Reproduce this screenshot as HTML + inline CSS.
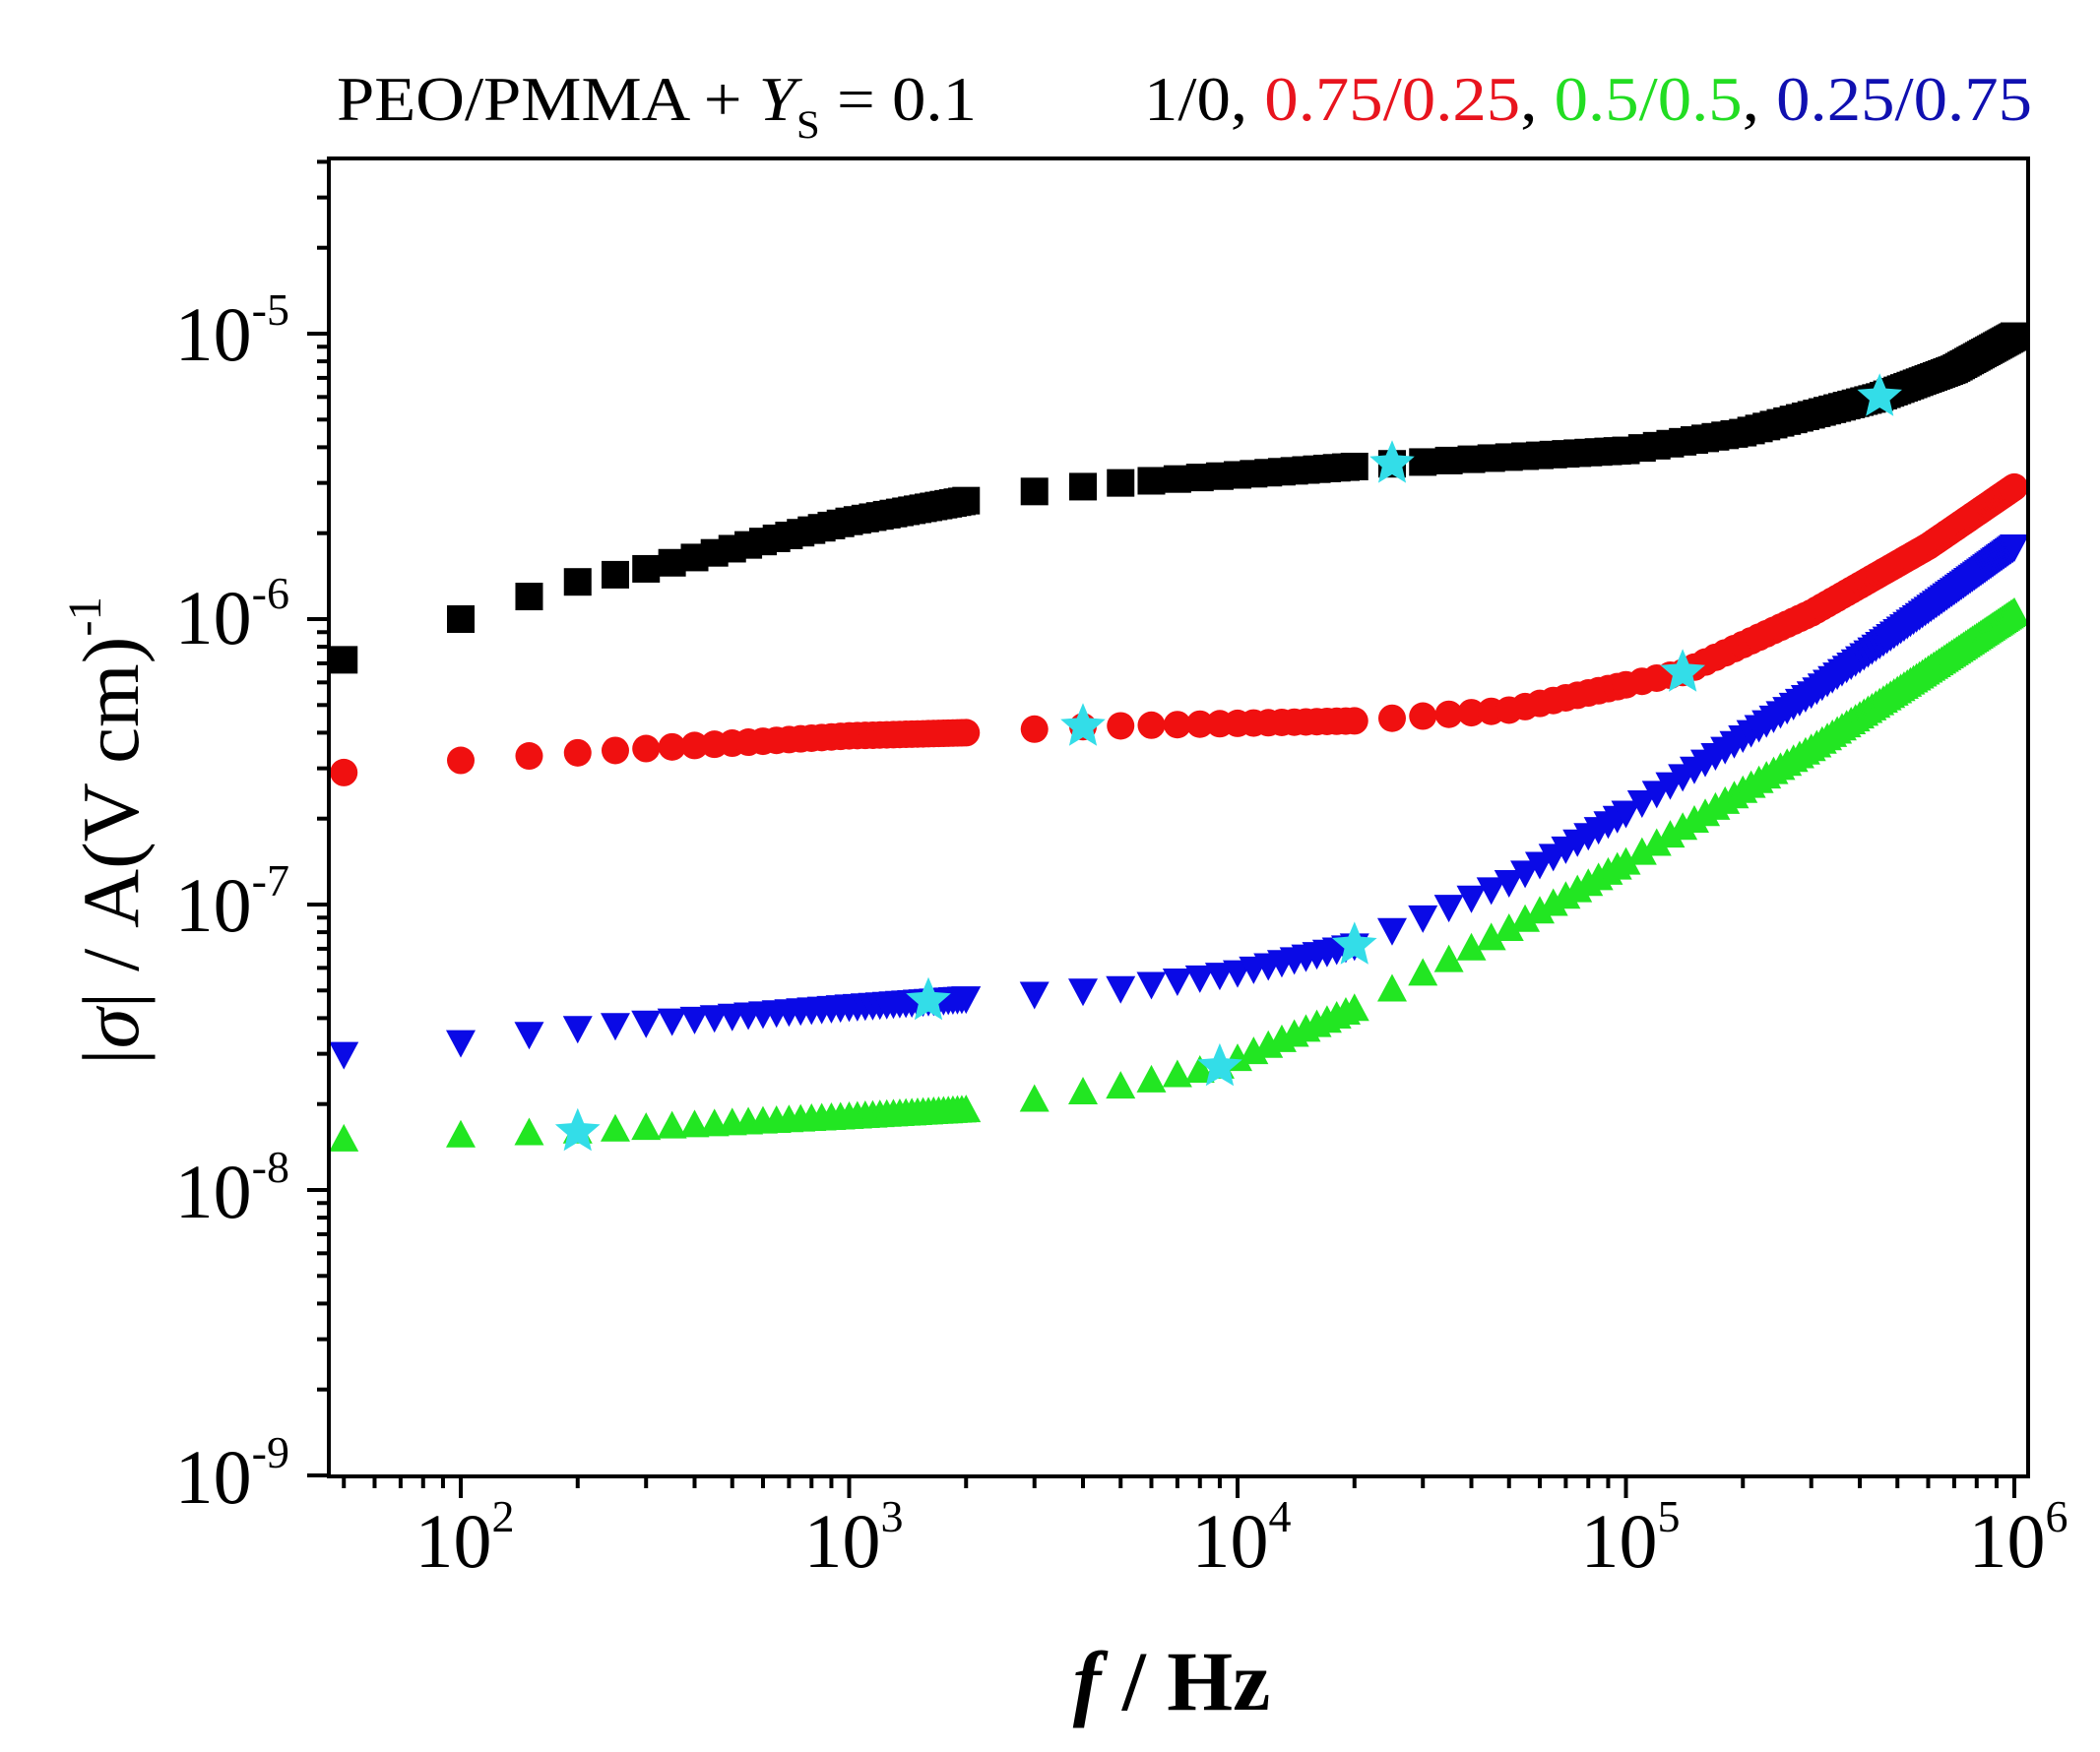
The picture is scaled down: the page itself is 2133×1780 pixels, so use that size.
<!DOCTYPE html>
<html><head><meta charset="utf-8"><style>
html,body{margin:0;padding:0;background:#fff;}
svg{display:block;}
text{font-family:"Liberation Serif",serif;}
</style></head><body>
<svg id="s" width="2133" height="1780" xmlns="http://www.w3.org/2000/svg">
<rect width="2133" height="1780" fill="#fff"/>
<g id="data"></g>
<rect x="334" y="161" width="1726" height="1339" fill="none" stroke="#000" stroke-width="4"/>
<g id="ticks" stroke="#000" stroke-width="4"></g>
<g font-size="78" fill="#000">
<text x="294" y="366" text-anchor="end">10<tspan dy="-36" font-size="46">-5</tspan></text>
<text x="294" y="654" text-anchor="end">10<tspan dy="-36" font-size="46">-6</tspan></text>
<text x="294" y="946" text-anchor="end">10<tspan dy="-36" font-size="46">-7</tspan></text>
<text x="294" y="1237" text-anchor="end">10<tspan dy="-36" font-size="46">-8</tspan></text>
<text x="294" y="1527" text-anchor="end">10<tspan dy="-36" font-size="46">-9</tspan></text>
<text x="472" y="1592" text-anchor="middle">10<tspan dy="-36" font-size="46">2</tspan></text>
<text x="867" y="1592" text-anchor="middle">10<tspan dy="-36" font-size="46">3</tspan></text>
<text x="1261" y="1592" text-anchor="middle">10<tspan dy="-36" font-size="46">4</tspan></text>
<text x="1656" y="1592" text-anchor="middle">10<tspan dy="-36" font-size="46">5</tspan></text>
<text x="2050" y="1592" text-anchor="middle">10<tspan dy="-36" font-size="46">6</tspan></text>
</g>
<text x="1190" y="1737" text-anchor="middle" font-size="86" font-weight="bold"><tspan font-style="italic">f</tspan> / Hz</text>
<text transform="translate(140,1082) rotate(-90)" font-size="82" textLength="476" lengthAdjust="spacingAndGlyphs">|<tspan font-style="italic">σ</tspan>| / A(V cm)<tspan dy="-38" font-size="48">-1</tspan></text>
<text x="342" y="122" font-size="64" textLength="650" lengthAdjust="spacingAndGlyphs">PEO/PMMA + <tspan font-style="italic">Y</tspan><tspan dy="18" font-size="40">S</tspan><tspan dy="-18"> = 0.1</tspan></text>
<text x="1162" y="122" font-size="64" textLength="902" lengthAdjust="spacingAndGlyphs">1/0, <tspan fill="#e8141e">0.75/0.25</tspan>, <tspan fill="#22dd22">0.5/0.5</tspan>, <tspan fill="#1010b0">0.25/0.75</tspan></text>
</svg>
<script>
function X(f){return 468+394.5*(Math.log10(f)-2);}
function Y(v){return 339+290*(-5-Math.log10(v));}
var tk=document.getElementById("ticks"),s="";
for(var d=1;d<=6;d++){for(var m=1;m<10;m++){var f=m*Math.pow(10,d);var x=X(f);if(x<336||x>2058)continue;s+='<line x1="'+x+'" y1="1500" x2="'+x+'" y2="'+(m==1?1522:1512)+'"/>';}}
for(var d=-10;d<=-4;d++){for(var m=1;m<10;m++){var v=m*Math.pow(10,d);var y=Y(v);if(y<163||y>1500)continue;s+='<line x1="334" y1="'+y+'" x2="'+(m==1?312:322)+'" y2="'+y+'"/>';}}
tk.innerHTML=s;
function interp(pts,f){var lf=Math.log10(f);for(var i=0;i<pts.length-1;i++){var a=Math.log10(pts[i][0]),b=Math.log10(pts[i+1][0]);if(lf<=b){var t=(lf-a)/(b-a);return Math.pow(10,Math.log10(pts[i][1])*(1-t)+Math.log10(pts[i+1][1])*t);}}return pts[pts.length-1][1];}
var freqs=[];for(var f=50;f<=2000;f+=50)freqs.push(f);for(f=3000;f<=20000;f+=1000)freqs.push(f);for(f=25000;f<100000;f+=5000)freqs.push(f);for(f=100000;f<=1000000;f+=10000)freqs.push(f);
var K=[[50,7.2e-7],[100,1e-6],[150,1.2e-6],[200,1.35e-6],[300,1.5e-6],[1000,2.2e-6],[2000,2.6e-6],[3000,2.8e-6],[5000,3e-6],[1e4,3.2e-6],[2.5e4,3.5e-6],[1e5,3.9e-6],[2e5,4.5e-6],[4.5e5,6e-6],[7e5,7.5e-6],[1e6,9.8e-6]];
var R=[[50,2.9e-7],[100,3.2e-7],[200,3.4e-7],[1000,3.9e-7],[2000,4.0e-7],[4000,4.2e-7],[2e4,4.4e-7],[5e4,4.8e-7],[1.4e5,6.5e-7],[3e5,1.05e-6],[6e5,1.8e-6],[1e6,2.9e-6]];
var B=[[50,3e-8],[100,3.3e-8],[200,3.7e-8],[1000,4.4e-8],[2000,4.7e-8],[5000,5.1e-8],[1e4,5.8e-8],[2e4,7.2e-8],[5e4,1.2e-7],[1e5,2.1e-7],[3e5,5.5e-7],[1e6,1.8e-6]];
var G=[[50,1.5e-8],[100,1.55e-8],[200,1.6e-8],[1000,1.8e-8],[2000,1.9e-8],[5000,2.3e-8],[9000,2.7e-8],[2e4,4.3e-8],[5e4,8.2e-8],[1e5,1.4e-7],[3e5,3.5e-7],[1e6,1.05e-6]];
var h="";
freqs.forEach(function(f){var x=X(f),y=Y(interp(G,f));h+='<polygon fill="#22e622" points="'+x+','+(y-16)+' '+(x+15)+','+(y+12)+' '+(x-15)+','+(y+12)+'"/>';});
freqs.forEach(function(f){var x=X(f),y=Y(interp(B,f));h+='<polygon fill="#0a0ae6" points="'+x+','+(y+16)+' '+(x+15)+','+(y-12)+' '+(x-15)+','+(y-12)+'"/>';});
freqs.forEach(function(f){var x=X(f),y=Y(interp(R,f));h+='<circle fill="#f01010" cx="'+x+'" cy="'+y+'" r="14"/>';});
freqs.forEach(function(f){var x=X(f),y=Y(interp(K,f));h+='<rect fill="#000" x="'+(x-14)+'" y="'+(y-14)+'" width="28" height="28"/>';});
function star(x,y,r){var p=[];for(var i=0;i<10;i++){var a=-Math.PI/2+i*Math.PI/5;var rr=i%2?r*0.45:r;p.push((x+rr*Math.cos(a)).toFixed(1)+','+(y+rr*Math.sin(a)).toFixed(1));}return '<polygon fill="#33dde8" points="'+p.join(' ')+'"/>';}
[[K,2.5e4],[K,4.5e5],[R,4000],[R,1.4e5],[B,1600],[B,2e4],[G,200],[G,9000]].forEach(function(q){h+=star(X(q[1]),Y(interp(q[0],q[1])),24);});
document.getElementById("data").innerHTML=h;
</script>
</body></html>
